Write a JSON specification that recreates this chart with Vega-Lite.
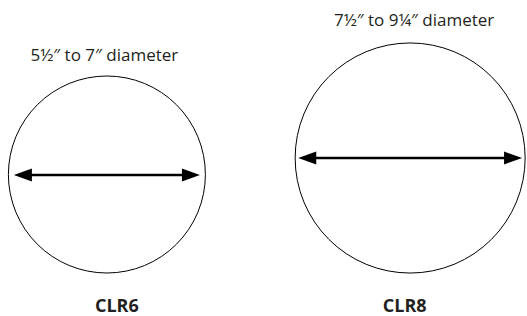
{
  "$schema": "https://vega.github.io/schema/vega-lite/v6.json",
  "width": 527,
  "height": 316,
  "autosize": {"type": "fit", "contains": "padding"},
  "padding": 0,
  "background": "white",
  "config": {"view": {"stroke": null}},
  "datasets": {
    "circles": [
      {"model": "CLR6", "cx": 107.5, "cy": 174.5, "area": 38809},
      {"model": "CLR8", "cx": 412.5, "cy": 158, "area": 52900}
    ],
    "arrows": [
      {"model": "CLR6", "x1": 20, "x2": 196, "y": 175},
      {"model": "CLR8", "x1": 306, "x2": 520, "y": 158}
    ],
    "heads": [
      {"model": "CLR6", "side": "left", "x": 23, "y": 175},
      {"model": "CLR6", "side": "right", "x": 192, "y": 175},
      {"model": "CLR8", "side": "left", "x": 309, "y": 158},
      {"model": "CLR8", "side": "right", "x": 516, "y": 158}
    ],
    "labels": [
      {"text": "5½″ to 7″ diameter", "x": 105, "y": 61},
      {"text": "7½″ to 9¼″ diameter", "x": 416.5, "y": 26}
    ],
    "names": [
      {"text": "CLR6", "x": 117.5, "y": 312},
      {"text": "CLR8", "x": 407, "y": 312}
    ]
  },
  "layer": [
    {
      "data": {"name": "circles"},
      "mark": {"type": "point", "shape": "circle", "filled": false, "stroke": "black", "strokeWidth": 1, "opacity": 1},
      "encoding": {
        "x": {"field": "cx", "type": "quantitative", "scale": {"domain": [0, 527], "nice": false, "zero": false}, "axis": null},
        "y": {"field": "cy", "type": "quantitative", "scale": {"domain": [0, 316], "nice": false, "zero": false, "reverse": true}, "axis": null},
        "size": {"field": "area", "type": "quantitative", "scale": null, "legend": null}
      }
    },
    {
      "data": {"name": "arrows"},
      "mark": {"type": "rule", "stroke": "black", "strokeWidth": 2.6},
      "encoding": {
        "x": {"field": "x1", "type": "quantitative"},
        "x2": {"field": "x2"},
        "y": {"field": "y", "type": "quantitative"}
      }
    },
    {
      "data": {"name": "heads"},
      "transform": [{"filter": "datum.side === 'left'"}],
      "mark": {"type": "point", "shape": "M -1 0 L 1 -0.72 L 1 0.72 Z", "filled": true, "fill": "black", "size": 324, "opacity": 1, "strokeWidth": 0},
      "encoding": {
        "x": {"field": "x", "type": "quantitative"},
        "y": {"field": "y", "type": "quantitative"}
      }
    },
    {
      "data": {"name": "heads"},
      "transform": [{"filter": "datum.side === 'right'"}],
      "mark": {"type": "point", "shape": "M 1 0 L -1 -0.72 L -1 0.72 Z", "filled": true, "fill": "black", "size": 324, "opacity": 1, "strokeWidth": 0},
      "encoding": {
        "x": {"field": "x", "type": "quantitative"},
        "y": {"field": "y", "type": "quantitative"}
      }
    },
    {
      "data": {"name": "labels"},
      "mark": {"type": "text", "font": "Open Sans", "fontSize": 17, "baseline": "alphabetic", "align": "center", "color": "#231f20"},
      "encoding": {
        "x": {"field": "x", "type": "quantitative"},
        "y": {"field": "y", "type": "quantitative"},
        "text": {"field": "text"}
      }
    },
    {
      "data": {"name": "names"},
      "mark": {"type": "text", "font": "Open Sans", "fontSize": 18, "fontWeight": "bold", "baseline": "alphabetic", "align": "center", "color": "#231f20"},
      "encoding": {
        "x": {"field": "x", "type": "quantitative"},
        "y": {"field": "y", "type": "quantitative"},
        "text": {"field": "text"}
      }
    }
  ]
}
